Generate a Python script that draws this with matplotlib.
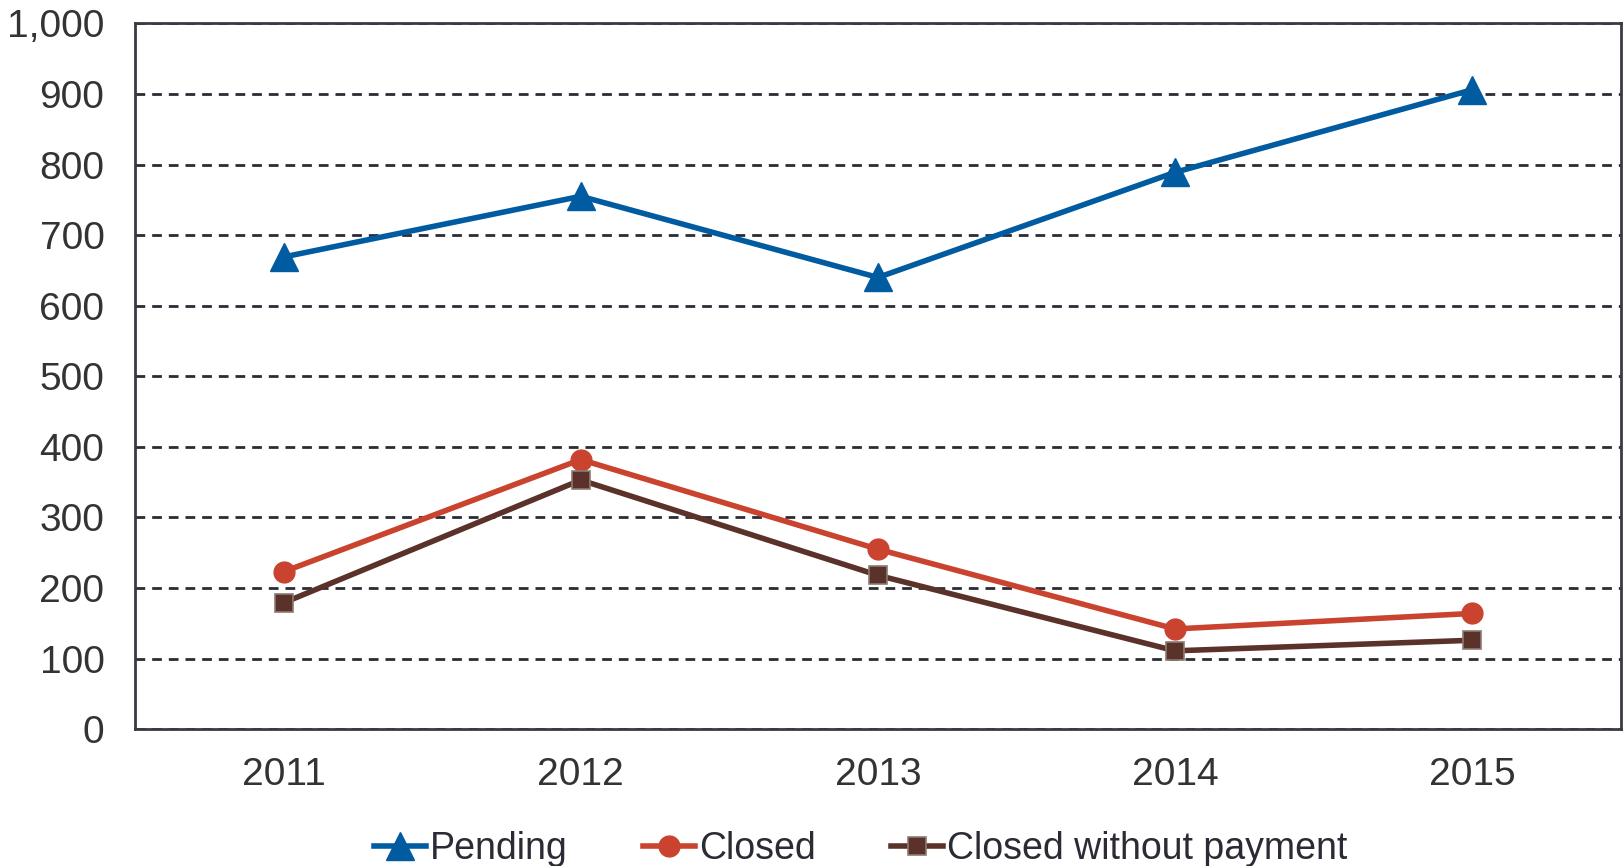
import numpy as np
import matplotlib
matplotlib.use('Agg')
import matplotlib.pyplot as plt
from matplotlib.ticker import FuncFormatter

years = ['2011', '2012', '2013', '2014', '2015']
pending = [669, 755, 640, 789, 906]
closed = [223, 382, 255, 142, 164]
closed_no_pay = [179, 353, 218, 111, 126]

plt.rcParams['font.family'] = ['Liberation Sans', 'DejaVu Sans']

fig = plt.figure(figsize=(16.24, 8.66), dpi=100)
ax = fig.add_axes([0.0831, 0.158, 0.915, 0.815])

x = np.arange(len(years))
grid_col = '#2b2b35'
ax.set_axisbelow(True)
ax.yaxis.grid(True, color=grid_col, linestyle=(0, (3.5, 2.5)), linewidth=2.0)

ax.plot(x, pending, color='#005BA1', lw=4, marker='^', ms=20, mec='#005BA1',
        label='Pending', zorder=3)
ax.plot(x, closed, color='#C9432E', lw=4, marker='o', ms=15, mec='#C9432E',
        label='Closed', zorder=3)
ax.plot(x, closed_no_pay, color='#5B3229', lw=4, marker='s', ms=13, mec='#8C7B72',
        mew=1.2, label='Closed without payment', zorder=3)

ax.set_xlim(-0.5, 4.5)
ax.set_ylim(0, 1000)
ax.set_yticks(np.arange(0, 1001, 100))
ax.yaxis.set_major_formatter(FuncFormatter(lambda v, p: f'{int(v):,}'))
ax.set_xticks(x)
ax.set_xticklabels(years)
ax.tick_params(axis='both', length=0, labelsize=28, colors='#333333')
ax.tick_params(axis='y', pad=22)
ax.tick_params(axis='x', pad=20)
for s in ax.spines.values():
    s.set_color('#3a3a44')
    s.set_linewidth(2.0)

fig.legend(loc='lower center', bbox_to_anchor=(0.53, -0.04), ncol=3, frameon=False,
           fontsize=27, handlelength=1.4, handletextpad=0.1, columnspacing=2.0,
           labelcolor='#2b2b35')

fig.savefig('out.png', dpi=100)
